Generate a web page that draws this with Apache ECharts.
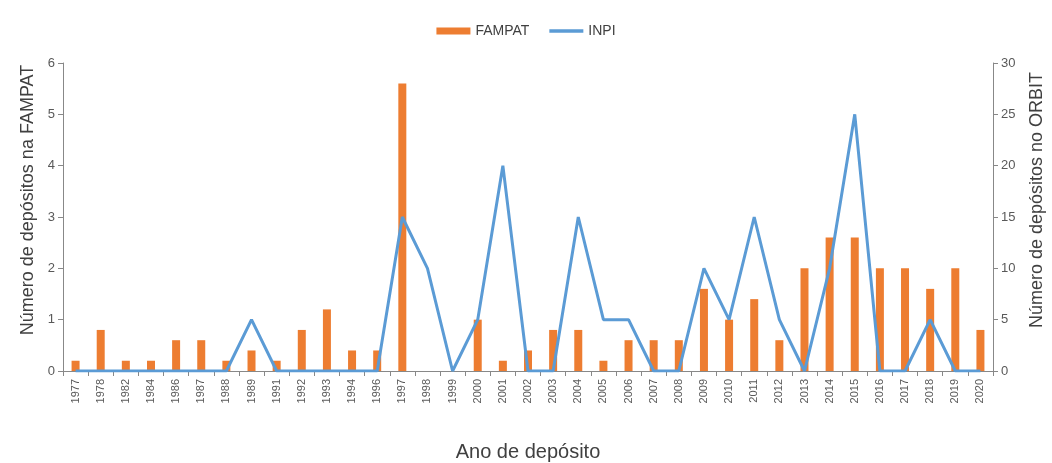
<!DOCTYPE html>
<html>
<head>
<meta charset="utf-8">
<script src="https://cdn.jsdelivr.net/npm/echarts@6/dist/echarts.min.js"></script>
<style>
  html, body { margin: 0; padding: 0; background: #fff; }
  #chart { width: 1052px; height: 463px; }
</style>
</head>
<body>
<div id="chart"></div>
<script>
// anos de depósito
const years = ['1977', '1978', '1982', '1984', '1986', '1987', '1988', '1989', '1991', '1992',
  '1993', '1994', '1996', '1997', '1998', '1999', '2000', '2001', '2002', '2003',
  '2004', '2005', '2006', '2007', '2008', '2009', '2010', '2011', '2012', '2013',
  '2014', '2015', '2016', '2017', '2018', '2019', '2020']
// FAMPAT (eixo esquerdo)
const fampat = [0.2, 0.8, 0.2, 0.2, 0.6, 0.6, 0.2, 0.4, 0.2, 0.8,
  1.2, 0.4, 0.4, 5.6, 0, 0, 1.0, 0.2, 0.4, 0.8,
  0.8, 0.2, 0.6, 0.6, 0.6, 1.6, 1.0, 1.4, 0.6, 2.0,
  2.6, 2.6, 2.0, 2.0, 1.6, 2.0, 0.8]
// INPI (eixo direito, ORBIT)
const inpi = [0, 0, 0, 0, 0, 0, 0, 5, 0, 0,
  0, 0, 0, 15, 10, 0, 5, 20, 0, 0,
  15, 5, 5, 0, 0, 10, 5, 15, 5, 0,
  10, 25, 0, 0, 5, 0, 0]

const font = 'Liberation Sans, Arial, sans-serif'
const grey = '#595959'

const chart = echarts.init(document.getElementById('chart'))
chart.setOption({
  animation: false,
  textStyle: { fontFamily: font },
  legend: {
    top: 19,
    left: 'center',
    itemWidth: 34,
    itemHeight: 7,
    itemGap: 20,
    textStyle: { color: '#404040', fontSize: 14 },
    data: [
      { name: 'FAMPAT', icon: 'rect' },
      { name: 'INPI', icon: 'path://M0,0H30V3H0Z' }
    ]
  },
  grid: {
    left: 63,
    right: 59,
    top: 63,
    bottom: 92,
    outerBoundsMode: 'none'
  },
  xAxis: {
    type: 'category',
    data: years,
    name: 'Ano de depósito',
    nameLocation: 'middle',
    nameGap: 71,
    nameTextStyle: { color: '#404040', fontSize: 20 },
    axisLine: { lineStyle: { color: '#888', width: 1 } },
    axisTick: { show: true, alignWithLabel: false, lineStyle: { color: '#888' } },
    axisLabel: { rotate: 90, color: grey, fontSize: 11, margin: 8 }
  },
  yAxis: [{
    type: 'value',
    min: 0,
    max: 6,
    interval: 1,
    name: 'Número de depósitos na FAMPAT',
    nameLocation: 'middle',
    nameGap: 26,
    nameTextStyle: { color: '#404040', fontSize: 18, padding: [0, 0, 0, 34] },
    axisLine: { show: true, lineStyle: { color: '#888' } },
    axisTick: { show: true, lineStyle: { color: '#888' } },
    axisLabel: { color: grey, fontSize: 13 },
    splitLine: { show: false }
  }, {
    type: 'value',
    min: 0,
    max: 30,
    interval: 5,
    name: 'Número de depósitos no ORBIT',
    nameLocation: 'middle',
    nameGap: 35,
    nameRotate: 90,
    nameTextStyle: { color: '#404040', fontSize: 18, padding: [0, 0, 0, 34] },
    axisLine: { show: true, lineStyle: { color: '#888' } },
    axisTick: { show: true, lineStyle: { color: '#888' } },
    axisLabel: { color: grey, fontSize: 13 },
    splitLine: { show: false }
  }],
  series: [{
    name: 'FAMPAT',
    type: 'bar',
    yAxisIndex: 0,
    barWidth: 8,
    itemStyle: { color: '#ED7D31' },
    data: fampat
  }, {
    name: 'INPI',
    type: 'line',
    yAxisIndex: 1,
    symbol: 'none',
    lineStyle: { color: '#5B9BD5', width: 3 },
    itemStyle: { color: '#5B9BD5' },
    data: inpi
  }]
})
</script>
</body>
</html>
